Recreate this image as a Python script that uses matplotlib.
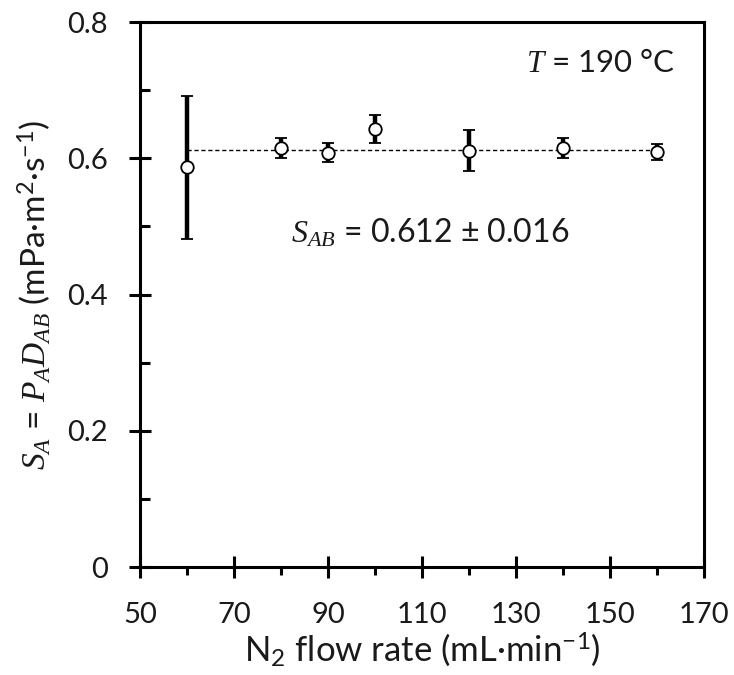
import matplotlib
matplotlib.use("Agg")
import matplotlib.pyplot as plt
from matplotlib.ticker import FixedLocator, FuncFormatter

plt.rcParams['font.family'] = ['Lato', 'DejaVu Sans']
plt.rcParams['mathtext.fontset'] = 'custom'
plt.rcParams['mathtext.rm'] = 'Lato'
plt.rcParams['mathtext.it'] = 'Liberation Serif:italic'
plt.rcParams['mathtext.fallback'] = 'stix'

flow = [60, 80, 90, 100, 120, 140, 160]
s_vals = [0.587, 0.615, 0.608, 0.643, 0.611, 0.615, 0.609]
s_err = [0.105, 0.015, 0.014, 0.021, 0.030, 0.014, 0.012]
s_ab = 0.612
s_ab_err = 0.016
x_major = [50, 70, 90, 110, 130, 150, 170]
x_minor = [60, 80, 100, 120, 140, 160]
y_major = [0, 0.2, 0.4, 0.6, 0.8]
y_minor = [0.1, 0.3, 0.5, 0.7]

TXT = '#1a1a1a'

fig = plt.figure(figsize=(7.34, 6.75), dpi=100)
ax = fig.add_axes([0.1907, 0.16, 0.7683, 0.8074])

ax.plot([flow[0], flow[-1]], [s_ab, s_ab], ls=(0, (3, 2)), color='black', lw=1.0, zorder=1)
ax.errorbar(flow, s_vals, yerr=s_err, fmt='o', ms=9, mfc='white', mec='black', mew=1.3,
            ecolor='black', elinewidth=3.2, capsize=4, capthick=3, zorder=3)

ax.set_xlim(50, 170)
ax.set_ylim(0, 0.8)
ax.xaxis.set_major_locator(FixedLocator(x_major))
ax.xaxis.set_minor_locator(FixedLocator(x_minor))
ax.yaxis.set_major_locator(FixedLocator(y_major))
ax.yaxis.set_minor_locator(FixedLocator(y_minor))
ax.yaxis.set_major_formatter(FuncFormatter(lambda v, p: '%g' % v))
ax.tick_params(which='major', direction='inout', length=16, width=2.2, labelsize=21,
               labelcolor=TXT)
ax.tick_params(axis='x', which='major', pad=17)
ax.tick_params(axis='y', which='major', pad=15)
ax.tick_params(axis='x', which='minor', direction='out', length=6, width=2.2, top=False)
ax.tick_params(axis='y', which='minor', direction='in', length=7, width=2.2, right=False)
ax.tick_params(axis='x', which='both', top=False)
ax.tick_params(axis='y', which='both', right=False)
for sp in ax.spines.values():
    sp.set_linewidth(2.2)

ax.set_xlabel('N$_2$ flow rate (mL·min$^{-1}$)', fontsize=25, labelpad=2, color=TXT)
ax.set_ylabel('$S_A$ = $P_A D_{AB}$ (mPa·m$^2$·s$^{-1}$)', fontsize=24, labelpad=10,
              color=TXT)

ax.text(0.9486, 0.925, '$T$ = 190 °C', transform=ax.transAxes, ha='right', va='center',
        fontsize=22.5, color=TXT)
ax.text(0.514, 0.613, '$S_{AB}$ = 0.612 ± 0.016', transform=ax.transAxes, ha='center',
        va='center', fontsize=23, color=TXT)

fig.savefig('out.png', dpi=100)
